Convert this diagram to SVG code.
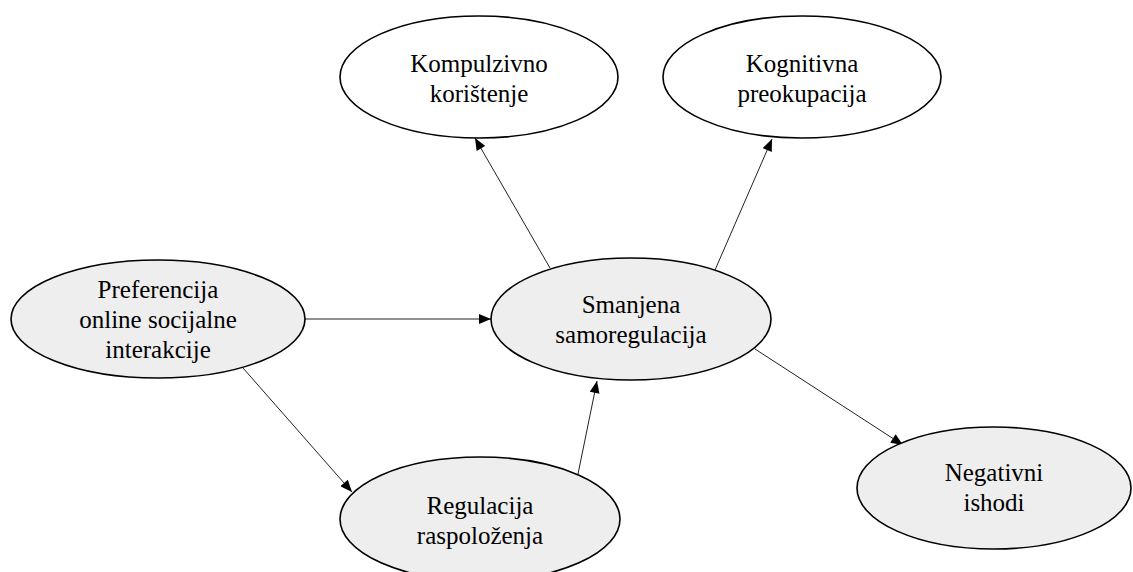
<svg xmlns="http://www.w3.org/2000/svg" width="1133" height="572" viewBox="0 0 1133 572">
<style>
.n{stroke:#000;stroke-width:1.6}
.w{fill:#fff}
.g{fill:#eeeeee}
.t{font-family:'Liberation Serif','Times New Roman',serif;font-size:25px;fill:#000;text-anchor:middle}
.c{stroke:#222;stroke-width:1;fill:none;marker-end:url(#ah)}
</style>
<defs>
<marker id="ah" viewBox="0 0 12 10" refX="12" refY="5" markerWidth="13" markerHeight="10" markerUnits="userSpaceOnUse" orient="auto">
<path d="M0,0 L12,5 L0,10 Z" fill="#000"/>
</marker>
</defs>
<rect width="1133" height="572" fill="#fff"/>
<g id="connectors">
<line class="c" x1="305" y1="319" x2="491" y2="319"/>
<line class="c" x1="243" y1="368" x2="352" y2="492"/>
<line class="c" x1="578" y1="474" x2="597" y2="381"/>
<line class="c" x1="550" y1="268" x2="475" y2="138"/>
<line class="c" x1="715" y1="270" x2="772" y2="139"/>
<line class="c" x1="755" y1="349" x2="903" y2="445"/>
</g>
<g id="kompulzivno">
<ellipse class="n w" cx="479" cy="77" rx="139" ry="61"/>
<text class="t" x="479" y="72">Kompulzivno</text>
<text class="t" x="479" y="102">korištenje</text>
</g>
<g id="kognitivna">
<ellipse class="n w" cx="802" cy="77" rx="139" ry="61"/>
<text class="t" x="802" y="72">Kognitivna</text>
<text class="t" x="802" y="102">preokupacija</text>
</g>
<g id="preferencija">
<ellipse class="n g" cx="158" cy="319" rx="147" ry="59"/>
<text class="t" x="158" y="298">Preferencija</text>
<text class="t" x="158" y="328">online socijalne</text>
<text class="t" x="158" y="358">interakcije</text>
</g>
<g id="smanjena">
<ellipse class="n g" cx="631" cy="319" rx="140" ry="61"/>
<text class="t" x="631" y="313">Smanjena</text>
<text class="t" x="631" y="343">samoregulacija</text>
</g>
<g id="regulacija">
<ellipse class="n g" cx="480" cy="519" rx="140" ry="62"/>
<text class="t" x="480" y="514">Regulacija</text>
<text class="t" x="480" y="544">raspoloženja</text>
</g>
<g id="negativni">
<ellipse class="n g" cx="994" cy="488" rx="137" ry="61"/>
<text class="t" x="994" y="481">Negativni</text>
<text class="t" x="994" y="511">ishodi</text>
</g>
</svg>
